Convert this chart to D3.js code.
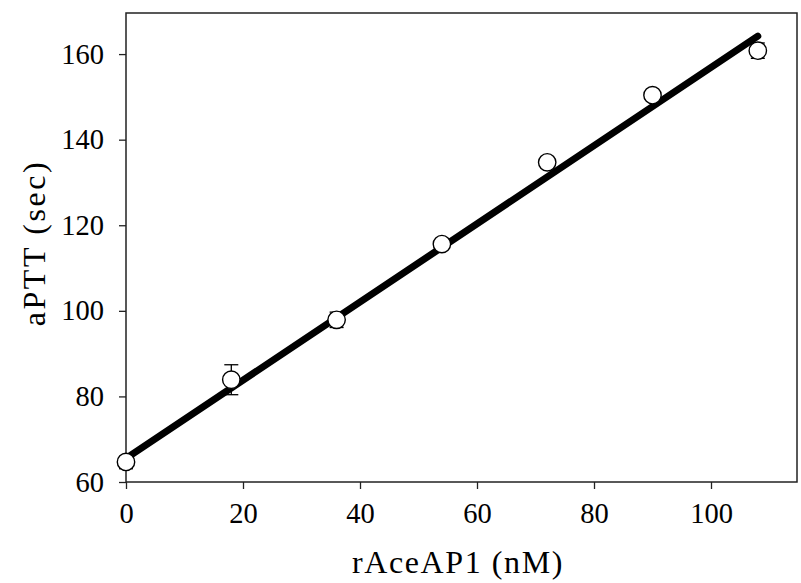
<!DOCTYPE html>
<html>
<head>
<meta charset="utf-8">
<script src="https://cdn.jsdelivr.net/npm/d3@7"></script>
<style>
  body { margin: 0; background: #fff; }
  text { font-family: "Liberation Serif", "DejaVu Serif", serif; fill: #000; }
</style>
</head>
<body>
<div id="chart"></div>
<script>
// data
const conc = [0, 18, 36, 54, 72, 90, 108];
const aptt = [64.7, 83.9, 97.9, 115.6, 134.7, 150.4, 160.8];
const errUp = [0.6, 3.5, 1.8, 0.8, 1.2, 0.8, 1.8];
const errDown = [1.6, 3.5, 1.8, 0.8, 1.2, 0.8, 1.8];
const fitLine = [[0, 65.5], [108, 164.2]];
const xTicks = [0, 20, 40, 60, 80, 100];
const yTicks = [60, 80, 100, 120, 140, 160];

const width = 801;
const height = 583;
const margin = { top: 13, right: 4, bottom: 101, left: 126 };

const svg = d3.select("#chart").append("svg")
    .attr("width", width)
    .attr("height", height);

const x = d3.scaleLinear().domain([0, 114.7]).range([margin.left, width - margin.right]);
const y = d3.scaleLinear().domain([60, 169.6]).range([height - margin.bottom, margin.top]);

// axes
const xAxis = d3.axisBottom(x).tickValues(xTicks).tickSize(7).tickSizeOuter(0).tickPadding(14);
const yAxis = d3.axisLeft(y).tickValues(yTicks).tickSize(7).tickSizeOuter(0).tickPadding(15);

const gx = svg.append("g")
    .attr("transform", "translate(0," + (height - margin.bottom) + ")")
    .call(xAxis);
const gy = svg.append("g")
    .attr("transform", "translate(" + margin.left + ",0)")
    .call(yAxis);

[gx, gy].forEach(function (g) {
    g.select(".domain").remove();
    g.selectAll(".tick line").attr("stroke", "#222").attr("stroke-width", 1.3);
    g.selectAll(".tick text")
        .style("font-size", "28.5px")
        .style("font-family", "Liberation Serif, serif");
});

// frame
svg.append("rect")
    .attr("x", margin.left)
    .attr("y", margin.top)
    .attr("width", width - margin.right - margin.left)
    .attr("height", height - margin.bottom - margin.top)
    .attr("fill", "none")
    .attr("stroke", "#222")
    .attr("stroke-width", 1.5);

// regression line
svg.append("path")
    .attr("d", d3.line().x(function (d) { return x(d[0]); }).y(function (d) { return y(d[1]); })(fitLine))
    .attr("stroke", "#000")
    .attr("stroke-width", 7)
    .attr("stroke-linecap", "round")
    .attr("fill", "none");

// error bars
const pts = conc.map(function (c, i) {
    return { x: c, y: aptt[i], lo: aptt[i] - errDown[i], hi: aptt[i] + errUp[i] };
});

const eb = svg.append("g").attr("stroke", "#000").attr("stroke-width", 1.3);
pts.forEach(function (d) {
    eb.append("line").attr("x1", x(d.x)).attr("x2", x(d.x)).attr("y1", y(d.lo)).attr("y2", y(d.hi));
    [d.lo, d.hi].forEach(function (v) {
        eb.append("line").attr("x1", x(d.x) - 7).attr("x2", x(d.x) + 7).attr("y1", y(v)).attr("y2", y(v));
    });
});

// points
svg.append("g").selectAll("circle")
    .data(pts)
    .join("circle")
    .attr("cx", function (d) { return x(d.x); })
    .attr("cy", function (d) { return y(d.y); })
    .attr("r", 8.7)
    .attr("fill", "#fff")
    .attr("stroke", "#000")
    .attr("stroke-width", 1.4);

// axis titles
svg.append("text")
    .attr("x", 458)
    .attr("y", 573)
    .attr("text-anchor", "middle")
    .style("font-size", "32px")
    .style("letter-spacing", "1.6px")
    .text("rAceAP1 (nM)");

svg.append("text")
    .attr("transform", "translate(45," + 243 + ") rotate(-90)")
    .attr("text-anchor", "middle")
    .style("font-size", "32px")
    .style("letter-spacing", "2.6px")
    .text("aPTT (sec)");
</script>
</body>
</html>
